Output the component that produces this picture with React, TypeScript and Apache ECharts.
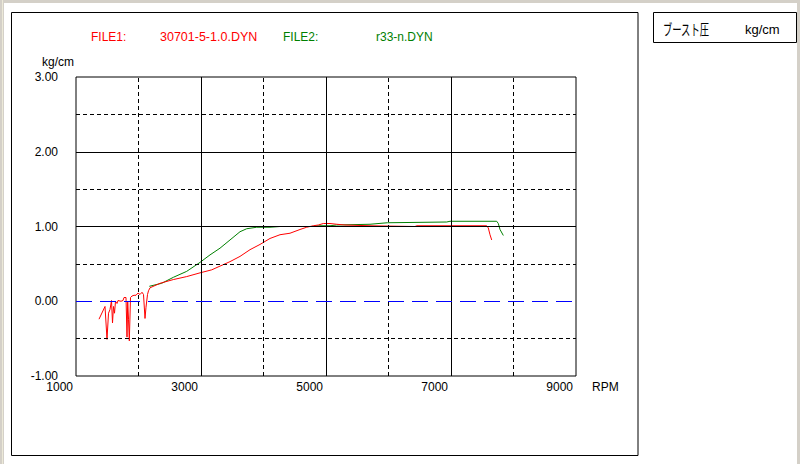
import React, { useEffect, useRef } from "react";
import * as echarts from "echarts";

// ---- data ----
const redRpm = [1368,1464,1496,1520,1544,1568,1584,1600,1616,1632,1656,1672,1720,1752,1768,1800,1816,1827,1840,1853,1872,1896,1928,1960,1992,2024,2056,2080,2104,2120,2144,2160,2184,2344,2557,2771,2984,3171,3304,3464,3624,3784,3944,4104,4264,4424,4584,4691,4797,4877,4957,5064,5171,5304,5704,6424,6451,7192,7571,7597,7624,7651];
const redBoost = [-0.24,-0.07,-0.51,-0.16,-0.11,0.01,-0.29,-0.07,-0.16,0.0,-0.03,0.01,0.0,0.01,0.05,0.05,-0.48,0.0,-0.24,-0.53,0.05,0.07,0.08,0.08,0.11,0.09,0.12,0.09,-0.23,-0.08,0.09,0.14,0.18,0.24,0.29,0.33,0.38,0.42,0.47,0.53,0.6,0.69,0.76,0.84,0.89,0.91,0.96,0.99,1.01,1.02,1.04,1.04,1.03,1.02,1.01,1.0,1.01,1.01,1.01,0.98,0.89,0.82];

const greenRpm = [2173,2371,2557,2771,2984,3144,3304,3464,3624,3731,3891,4104,4264,4771,4904,5064,5171,5704,5981,6931,6984,7731,7757,7784,7837];
const greenBoost = [0.2,0.24,0.32,0.4,0.52,0.62,0.71,0.82,0.93,0.97,0.99,0.99,1.0,1.0,1.01,1.01,1.02,1.03,1.05,1.06,1.07,1.07,1.04,0.96,0.88];

const majorRpm = [3000, 5000, 7000];
const minorRpm = [2000, 4000, 6000, 8000];
const majorBoost = [1, 2];
const minorBoost = [-0.5, 0.5, 1.5, 2.5];
const zeroBoost = 0;

const file1Label = "FILE1:";
const file1Name = "30701-5-1.0.DYN";
const file2Label = "FILE2:";
const file2Name = "r33-n.DYN";
const yUnit = "kg/cm";
const xUnit = "RPM";
const boxTitle = "ブースト圧";
const boxUnit = "kg/cm";

const FONT = '"Liberation Sans", Arial, sans-serif';

export default function App() {
  const ref = useRef<HTMLDivElement>(null);

  useEffect(() => {
    if (!ref.current) return;
    const chart = echarts.init(ref.current, null, { renderer: "svg" });

    const pairs = (xs: number[], ys: number[]) => xs.map((x, i) => [x, ys[i]]);
    const solid = { type: "solid", color: "#000", width: 1 };
    const dashed = { type: [4, 3], color: "#000", width: 1 };

    const gridLines = [
      ...minorRpm.map((v) => ({ xAxis: v, lineStyle: dashed })),
      ...majorRpm.map((v) => ({ xAxis: v, lineStyle: solid })),
      ...minorBoost.map((v) => ({ yAxis: v, lineStyle: dashed })),
      ...majorBoost.map((v) => ({ yAxis: v, lineStyle: solid })),
      { yAxis: zeroBoost, lineStyle: { type: [16, 8], color: "#0000ff", width: 1 } },
    ];

    const txt = (text: string, x: number, y: number, fill: string, size = 12, family = FONT, align = "left") => ({
      type: "text",
      x,
      y,
      style: { text, fill, font: `${size}px ${family}`, align, verticalAlign: "middle" },
      z: 10,
    });

    chart.setOption({
      animation: false,
      backgroundColor: "#ffffff",
      grid: {
        left: 76,
        top: 77,
        width: 500,
        height: 299,
        show: true,
        borderColor: "#000",
        borderWidth: 1,
        backgroundColor: "#fff",
      },
      xAxis: {
        type: "value",
        min: 1000,
        max: 9000,
        interval: 1000,
        axisLine: { show: false },
        axisTick: { show: false },
        splitLine: { show: false },
        axisLabel: {
          color: "#000",
          fontSize: 12,
          fontFamily: FONT,
          align: "right",
          margin: 5,
          padding: [0, 3, 0, 0],
          formatter: (v: number) => ((v / 1000) % 2 === 1 ? String(v) : ""),
        },
      },
      yAxis: {
        type: "value",
        min: -1,
        max: 3,
        interval: 0.5,
        axisLine: { show: false },
        axisTick: { show: false },
        splitLine: { show: false },
        axisLabel: {
          color: "#000",
          fontSize: 12,
          fontFamily: FONT,
          margin: 18,
          padding: [0, 0, 4, 0],
          formatter: (v: number) => (Number.isInteger(v) ? v.toFixed(2) : ""),
        },
      },
      series: [
        {
          type: "line",
          data: [],
          z: 1,
          silent: true,
          markLine: {
            silent: true,
            symbol: ["none", "none"],
            label: { show: false },
            animation: false,
            data: gridLines,
          },
        },
        {
          name: "FILE2",
          type: "line",
          data: pairs(greenRpm, greenBoost),
          showSymbol: false,
          z: 3,
          lineStyle: { color: "#008000", width: 1 },
          itemStyle: { color: "#008000" },
        },
        {
          name: "FILE1",
          type: "line",
          data: pairs(redRpm, redBoost),
          showSymbol: false,
          z: 4,
          lineStyle: { color: "#ff0000", width: 1 },
          itemStyle: { color: "#ff0000" },
        },
      ],
      graphic: [
        { type: "rect", shape: { x: 0, y: 0, width: 800, height: 3 }, style: { fill: "#d4d0c8" }, z: 0 },
        { type: "rect", shape: { x: 0, y: 0, width: 4, height: 464 }, style: { fill: "#d4d0c8" }, z: 0 },
        { type: "rect", shape: { x: 2, y: 0, width: 1, height: 464 }, style: { fill: "#ece9d8" }, z: 0 },
        { type: "rect", shape: { x: 797, y: 0, width: 3, height: 464 }, style: { fill: "#d4d0c8" }, z: 0 },
        {
          type: "rect",
          shape: { x: 11.5, y: 12.5, width: 626.5, height: 443 },
          style: { fill: "none", stroke: "#000", lineWidth: 1 },
          z: 0,
        },
        {
          type: "rect",
          shape: { x: 653.5, y: 12.5, width: 143, height: 30 },
          style: { fill: "#fff", stroke: "#000", lineWidth: 1 },
          z: 1,
        },
        {
          type: "text",
          x: 663,
          y: 29,
          scaleX: 0.62,
          style: { text: boxTitle, fill: "#000", font: '15px "Noto Sans CJK JP", sans-serif', align: "left", verticalAlign: "middle" },
          z: 10,
        },
        txt(boxUnit, 745, 29, "#000", 13),
        txt(file1Label, 91, 37, "#ff0000", 12),
        txt(file1Name, 160, 37, "#ff0000", 12.5),
        txt(file2Label, 283, 37, "#008000", 12),
        txt(file2Name, 376, 37, "#008000", 12),
        txt(yUnit, 42, 62, "#000", 12),
        txt(xUnit, 592, 387, "#000", 12),
      ],
    });

    return () => chart.dispose();
  }, []);

  return (
    <div
      ref={ref}
      style={{ position: "fixed", left: 0, top: 0, width: 800, height: 464, background: "#fff" }}
    />
  );
}
